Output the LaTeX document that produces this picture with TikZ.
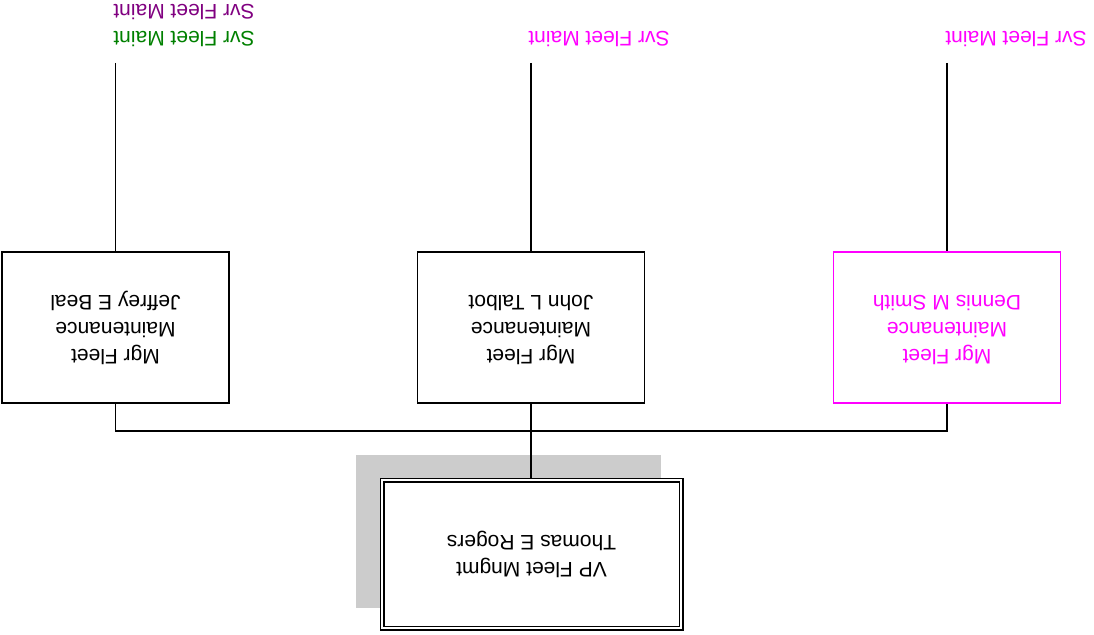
\documentclass[tikz,border=0pt]{standalone}
\usepackage{fontspec}
\setmainfont{Liberation Sans}
\definecolor{svrpurple}{RGB}{128,0,128}
\definecolor{svrgreen}{RGB}{0,128,0}
\definecolor{svrpink}{RGB}{255,0,255}
\definecolor{shadegray}{RGB}{204,204,204}
% chart text is set upside down
\newcommand{\upside}[1]{\rotatebox[origin=c]{180}{\begin{tabular}{@{}c@{}}#1\end{tabular}}}
\begin{document}
\begin{tikzpicture}[x=1pt,y=-1pt,
  font=\fontsize{21}{27}\selectfont,
  mgrbox/.style={draw, line width=1.6pt, minimum width=227pt, minimum height=151pt, inner sep=0pt},
  vpbox/.style={draw, double, line width=1.3pt, double distance=2.4pt, fill=white,
    minimum width=299pt, minimum height=148pt, inner sep=0pt},
  shadebox/.style={fill=shadegray, minimum width=305pt, minimum height=153pt, inner sep=0pt},
  label/.style={inner sep=0pt},
  link/.style={line width=1.5pt}]
\useasboundingbox (0,0) rectangle (1094,634);

% top labels
\node[label, text=svrpurple] (t1) at (184,9.5) {\upside{Svr Fleet Maint}};
\node[label, text=svrgreen] (t2) at (184,37) {\upside{Svr Fleet Maint}};
\node[label, text=svrpink] (t3) at (599,37) {\upside{Svr Fleet Maint}};
\node[label, text=svrpink] (t4) at (1016,37) {\upside{Svr Fleet Maint}};

\coordinate (e1) at (115.5,63);
\coordinate (e2) at (531,63);
\coordinate (e3) at (947,63);

% manager boxes
\node[mgrbox] (lb) at (115.5,327.5) {\upside{Mgr Fleet\\Maintenance\\Jeffrey E Beal}};
\node[mgrbox] (mb) at (531,327.5) {\upside{Mgr Fleet\\Maintenance\\John L Talbot}};
\node[mgrbox, draw=svrpink, text=svrpink] (rb) at (947,327.5) {\upside{Mgr Fleet\\Maintenance\\Dennis M Smith}};

% VP box with its shadow
\node[shadebox] (shade) at (508.5,531.5) {};
\node[vpbox] (vp) at (531.5,554) {\upside{VP Fleet Mngmt\\Thomas E Rogers}};

% connectors
\draw[link] (e1) -- (lb.north);
\draw[link] (e2) -- (mb.north);
\draw[link] (e3) -- (rb.north);
\coordinate (bus) at (531,431);
\draw[link] (lb.south) |- (bus) -| (rb.south);
\draw[link] (mb.south) -- (bus);
\draw[line width=2.2pt] (bus) -- (vp.north -| bus);
\end{tikzpicture}
\end{document}
